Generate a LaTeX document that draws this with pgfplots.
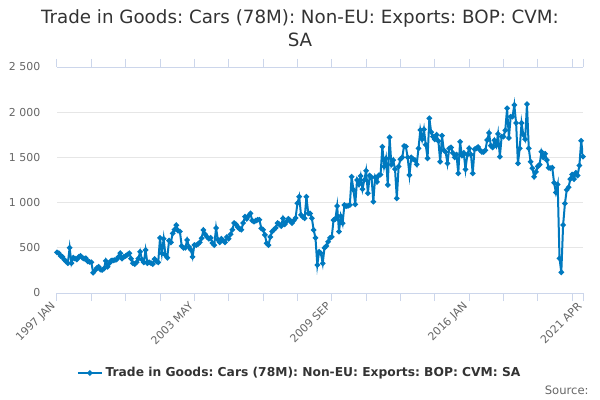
\documentclass[border=0pt]{standalone}
\usepackage{pgfplots}
\pgfplotsset{compat=1.18}
\usepackage{pgfplotstable}
\usepackage{fontspec}
\setmainfont{DejaVu Sans}
\frenchspacing
\definecolor{lineblue}{RGB}{0,121,191}
\definecolor{gridc}{RGB}{230,230,230}
\definecolor{axisc}{RGB}{204,214,235}
\definecolor{tickc}{RGB}{102,102,102}
\definecolor{titlec}{RGB}{51,51,51}
\pgfplotstableread{
m v
0 450
1 440
2 410
3 400
4 370
5 350
6 330
7 500
8 330
9 390
10 380
11 370
12 400
13 410
14 390
15 380
16 385
17 350
18 345
19 340
20 225
21 250
22 275
23 290
24 260
25 255
26 270
27 355
28 290
29 330
30 357
31 360
32 365
33 370
34 400
35 440
36 380
37 400
38 410
39 425
40 440
41 380
42 330
43 320
44 340
45 380
46 457
47 370
48 340
49 475
50 330
51 340
52 330
53 320
54 375
55 350
56 340
57 610
58 440
59 600
60 420
61 390
62 580
63 560
64 660
65 700
66 750
67 690
68 680
69 520
70 500
71 500
72 586
73 510
74 480
75 400
76 530
77 530
78 540
79 560
80 605
81 697
82 650
83 620
84 600
85 610
86 553
87 530
88 719
89 590
90 560
91 600
92 580
93 560
94 620
95 600
96 650
97 700
98 774
99 760
100 730
101 710
102 700
103 774
104 844
105 820
106 855
107 881
108 800
109 790
110 800
111 810
112 810
113 715
114 700
115 643
116 550
117 530
118 620
119 680
120 700
121 720
122 774
123 760
124 740
125 826
126 760
127 790
128 820
129 800
130 774
131 800
132 830
133 992
134 1065
135 863
136 840
137 826
138 1065
139 880
140 880
141 826
142 697
143 610
144 310
145 457
146 440
147 328
148 500
149 520
150 567
151 610
152 620
153 807
154 820
155 962
156 678
157 850
158 771
159 973
160 960
161 965
162 973
163 1286
164 1140
165 980
166 1250
167 1200
168 1294
169 1150
170 1250
171 1353
172 1103
173 1300
174 1280
175 1010
176 1280
177 1230
178 1300
179 1310
180 1618
181 1400
182 1490
183 1195
184 1722
185 1420
186 1470
187 1370
188 1047
189 1400
190 1480
191 1500
192 1626
193 1620
194 1500
195 1305
196 1500
197 1480
198 1470
199 1423
200 1600
201 1803
202 1700
203 1810
204 1640
205 1490
206 1932
207 1780
208 1729
209 1700
210 1750
211 1680
212 1452
213 1740
214 1580
215 1560
216 1434
217 1600
218 1610
219 1550
220 1500
221 1530
222 1324
223 1673
224 1520
225 1550
226 1368
227 1530
228 1600
229 1530
230 1324
231 1590
232 1600
233 1615
234 1580
235 1560
236 1560
237 1580
238 1692
239 1770
240 1630
241 1610
242 1690
243 1630
244 1760
245 1508
246 1730
247 1730
248 1800
249 2043
250 1715
251 1950
252 1950
253 2080
254 1880
255 1434
256 1600
257 1880
258 1750
259 1700
260 2090
261 1600
262 1452
263 1380
264 1286
265 1340
266 1400
267 1420
268 1563
269 1500
270 1540
271 1470
272 1386
273 1380
274 1386
275 1220
276 1113
277 1200
278 384
279 229
280 752
281 990
282 1140
283 1170
284 1260
285 1310
286 1260
287 1330
288 1300
289 1410
290 1684
291 1508
}\datatable
\begin{document}
\begin{tikzpicture}[x=1pt,y=1pt]
\useasboundingbox (0,0) rectangle (450,300);
\node[align=center, text=titlec, font=\fontsize{13.7}{17.5}\selectfont] at (225,279) {Trade in Goods: Cars (78M): Non-EU: Exports: BOP: CVM:\\SA};
\begin{axis}[
  at={(42.75pt,80.25pt)}, anchor=south west,
  scale only axis, width=394.5pt, height=169.5pt,
  xmin=0, xmax=291, ymin=0, ymax=2500,
  separate axis lines,
  x axis line style={draw=axisc, line width=0.75pt},
  y axis line style={draw=none},
  every outer y axis line/.append style={draw=none},
  axis line style={-},
  ytick={0,500,1000,1500,2000,2500},
  yticklabels={0,500,1 000,1 500,2 000,2 500},
  ytick style={draw=none},
  ymajorgrids, grid style={gridc, line width=0.75pt},
  xtick={0,76,152,228,291},
  xticklabels={1997 JAN,2003 MAY,2009 SEP,2016 JAN,2021 APR},
  minor xtick={19,38,57,95,114,133,171,190,209,247,266,285},
  xtick style={draw=axisc, line width=0.75pt},
  minor x tick style={draw=axisc, line width=0.75pt},
  tick align=outside, major tick length=6pt, minor tick length=6pt,
  xticklabel style={rotate=45, anchor=east, font=\fontsize{8.2}{10}\selectfont, text=tickc},
  yticklabel style={font=\fontsize{8.2}{10}\selectfont, text=tickc, xshift=-3pt},
  legend style={at={(0.462,-0.354)}, anchor=center, draw=none, fill=none, font=\bfseries\fontsize{9.2}{11}\selectfont, text=titlec},
  legend image code/.code={\draw[#1, mark repeat=2, mark phase=2] plot coordinates {(0pt,0pt) (9pt,0pt) (18pt,0pt)};},
]
\addplot[color=lineblue, line width=1.5pt, mark=*, mark size=1.2pt, mark options={solid}] table[x=m, y=v] {\datatable};
\addlegendentry{Trade in Goods: Cars (78M): Non-EU: Exports: BOP: CVM: SA}
\end{axis}
\node[anchor=east, text=tickc, font=\fontsize{8.7}{10}\selectfont] at (445,7.5) {Source:};
\end{tikzpicture}
\end{document}
